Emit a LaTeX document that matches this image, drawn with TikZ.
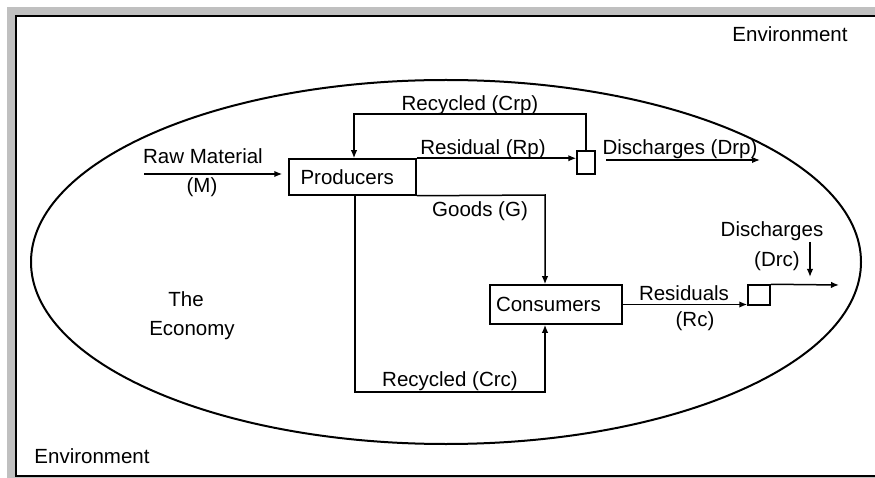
\documentclass[tikz,border=0pt]{standalone}
\usepackage{fontspec}
\setmainfont{Liberation Sans}
\usetikzlibrary{arrows.meta,positioning}
\definecolor{framegray}{RGB}{192,192,192}
\tikzset{
  flow/.style = {-{Latex[length=8pt,width=6.5pt]}, line width=1.5pt},
  sector/.style = {draw, line width=1.5pt, inner sep=0pt, font=\fontsize{20.5}{24}\selectfont},
  tap/.style = {draw, line width=1.5pt, inner sep=0pt},
  lbl/.style = {anchor=base, inner sep=0pt, font=\fontsize{20.5}{29}\selectfont, align=center},
}

\begin{document}
\begin{tikzpicture}[x = 1pt, y = -1pt]
\useasboundingbox (0,0) rectangle (875,478);
% frame
\fill[framegray] (7,7) rectangle (875,478);
\fill[white] (16,16) rectangle (875,476);
\draw[line width=1.2pt] (875,16) -- (16,16) -- (16,476) -- (875,476);
% the economy
\draw[line width=2pt] (446,262) ellipse [x radius=415, y radius=182];

\node[sector, minimum width=127pt, minimum height=36pt, text width=104pt, align=left] (prod) at (352.5,177) {Producers};
\node[sector, minimum width=132pt, minimum height=39pt, text width=120pt, align=left] (cons) at (556,304.5) {Consumers};
\node[tap, minimum width=18pt, minimum height=23pt] (rpbox) at (586,162.5) {};
\node[tap, minimum width=22pt, minimum height=20pt] (rcbox) at (759,295) {};

\coordinate (rawstart) at (144,174);
\coordinate (crptop) at (354,114);
\coordinate (goods) at (545,195);
\coordinate (crcbot) at (355,392);
\coordinate (drpstart) at (606,160);
\coordinate (drpend) at (760,160);
\coordinate (drcend) at (839,285);
\coordinate (drctop) at (810,242);
\coordinate (drctip) at (810,277);

% flows
\draw[flow, shorten >=6pt] (rawstart) -- (rawstart -| prod.west);
\draw[flow] (prod.north east) -- (prod.north east -| rpbox.west);
\draw[flow] (rpbox.north) |- (crptop) -- (crptop |- prod.north);
\draw[flow] (drpstart) -- (drpend);
\draw[flow] (prod.south east) -- (goods) -- (goods |- cons.north);
\draw[flow] (crcbot |- prod.south) -- (crcbot) -| (goods |- cons.south);
\draw[flow] (cons.east) -- (cons.east -| rcbox.west);
\draw[flow] (rcbox.north east) -- (drcend);
\draw[flow] (drctop) -- (drctip);

% labels
\node[lbl] (rawlbl) at (203,164) {Raw Material};
\node[lbl] (mlbl) at (202,193) {(M)};
\node[lbl] (crplbl) at (470,111) {Recycled (Crp)};
\node[lbl] (rplbl) at (483,155) {Residual (Rp)};
\node[lbl] (drplbl) at (680,155) {Discharges (Drp)};
\node[lbl] (glbl) at (480,217) {Goods (G)};
\node[lbl] (crclbl) at (450,386) {Recycled (Crc)};
\node[lbl] (rclbl) at (684,300) {Residuals};
\node[lbl] (rcplbl) at (695,326) {(Rc)};
\node[lbl] (drclbl) at (772,237) {Discharges};
\node[lbl] (drcplbl) at (777,267) {(Drc)};
\node[lbl] (thelbl) at (186,306) {The};
\node[lbl] (ecolbl) at (192,335) {Economy};
\node[lbl] (envtop) at (790,42) {Environment};
\node[lbl] (envbot) at (92,463) {Environment};
\end{tikzpicture}
\end{document}
